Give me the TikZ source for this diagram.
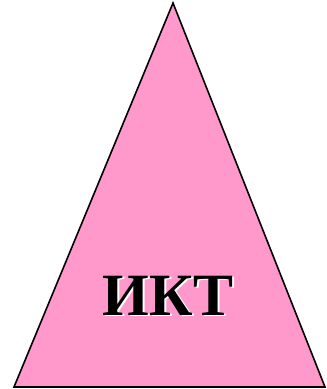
\documentclass[tikz,border=0pt]{standalone}
\usepackage{fontspec}
\setmainfont{Liberation Serif}
\definecolor{trifill}{HTML}{FF99CC}
\newcommand{\shadowtext}[1]{\makebox[0pt][l]{\hspace{2pt}\raisebox{-2pt}{\textcolor{white}{#1}}}#1}
\begin{document}
\begin{tikzpicture}[x=1pt,y=1pt,
  tri/.style={draw=black,line width=1.6pt,fill=trifill,line join=miter},
  lbl/.style={font=\fontsize{60}{60}\selectfont\bfseries,anchor=base,inner sep=0pt}]
\useasboundingbox (0,0) rectangle (327,389);
\coordinate (apex) at (173,386);
\coordinate (bl) at (14,2);
\coordinate (br) at (325,2);
\draw[tri] (apex) -- (bl) -- (br) -- cycle;
\node[lbl] (label) at (168,74) {\shadowtext{ИКТ}};
\end{tikzpicture}
\end{document}
